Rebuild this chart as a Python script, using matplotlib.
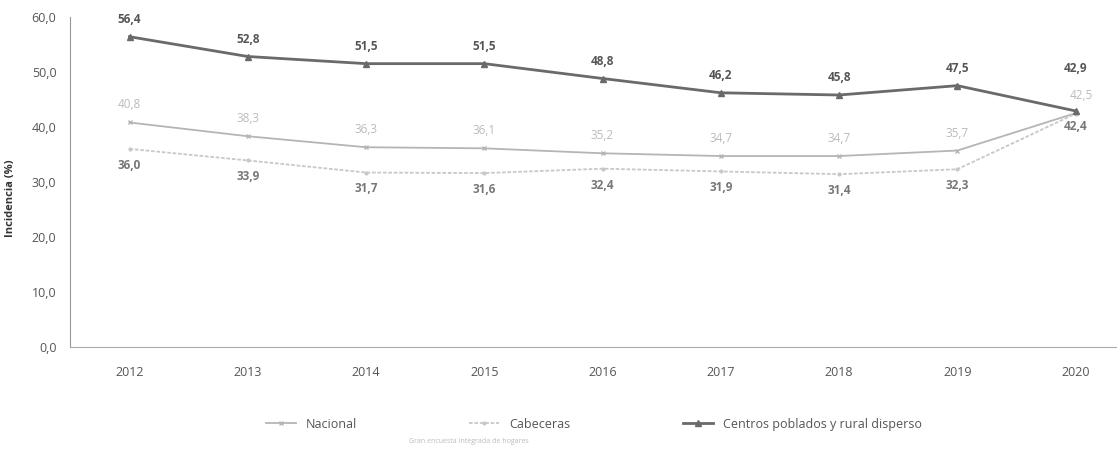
import matplotlib
matplotlib.use("Agg")
import matplotlib.pyplot as plt

# =========================
# Data
# =========================

years = ["2012", "2013", "2014", "2015", "2016", "2017", "2018", "2019", "2020"]
nacional = [40.8, 38.3, 36.3, 36.1, 35.2, 34.7, 34.7, 35.7, 42.5]
cabeceras = [36.0, 33.9, 31.7, 31.6, 32.4, 31.9, 31.4, 32.3, 42.4]
rural = [56.4, 52.8, 51.5, 51.5, 48.8, 46.2, 45.8, 47.5, 42.9]
y_ticks = [0, 10, 20, 30, 40, 50, 60]


def fmt(v):
    return f"{v:.1f}".replace(".", ",")


# =========================
# Chart
# =========================

plt.rcParams["font.family"] = ["Open Sans", "DejaVu Sans"]

fig = plt.figure(figsize=(11.17, 4.57), dpi=100)
ax = fig.add_axes([0.063, 0.241, 0.937, 0.722])

x = list(range(len(years)))

ax.plot(x, nacional, color="#b5b5b5", linewidth=1.3, marker="x",
        markersize=3, label="Nacional")
ax.plot(x, cabeceras, color="#c8c8c8", linewidth=1.3, linestyle=(0, (2, 1)),
        marker="o", markersize=2, label="Cabeceras")
ax.plot(x, rural, color="#6a6a6a", linewidth=2, marker="^",
        markersize=5, label="Centros poblados y rural disperso")

# Value labels
last = len(years) - 1
for i, v in enumerate(rural):
    dy = 2.0 if i < last else 6.5
    ax.text(i, v + dy, fmt(v), ha="center", va="bottom", fontsize=8.5,
            color="#555555", fontweight="bold")
for i, v in enumerate(nacional):
    if i < last:
        ax.text(i, v + 2.0, fmt(v), ha="center", va="bottom", fontsize=8.5,
                color="#bbbbbb")
    else:
        ax.text(i + 0.05, v + 2.0, fmt(v), ha="center", va="bottom",
                fontsize=8.5, color="#bbbbbb")
for i, v in enumerate(cabeceras):
    dy = 1.8 if i < last else 1.2
    ax.text(i, v - dy, fmt(v), ha="center", va="top", fontsize=8.5,
            color="#777777", fontweight="bold")

ax.set_xlim(-0.5, 8.35)
ax.set_ylim(0, 60)
ax.set_xticks(x)
ax.set_xticklabels(years, fontsize=9, color="#555555")
ax.set_yticks(y_ticks)
ax.set_yticklabels([fmt(t) for t in y_ticks], fontsize=9, color="#555555")
ax.tick_params(length=0, pad=14)
ax.tick_params(axis="y", pad=10)

for side in ["top", "right"]:
    ax.spines[side].set_visible(False)
ax.spines["left"].set_color("#999999")
ax.spines["left"].set_linestyle((0, (1, 1)))
ax.spines["bottom"].set_color("#aaaaaa")
ax.spines["bottom"].set_linestyle((0, (2, 1)))

ax.set_ylabel("Incidencia (%)", fontsize=8, fontweight="bold", color="#333333")
ax.yaxis.set_label_coords(-0.052, 0.45)

ax.legend(loc="upper center", bbox_to_anchor=(0.5, -0.18), ncol=3,
          frameon=False, fontsize=9, labelcolor="#555555",
          columnspacing=9, handlelength=2.4)

fig.text(0.42, 0.03, "Gran encuesta integrada de hogares", ha="center",
         fontsize=5, color="#bbbbbb")

plt.savefig("out.png", dpi=100)
